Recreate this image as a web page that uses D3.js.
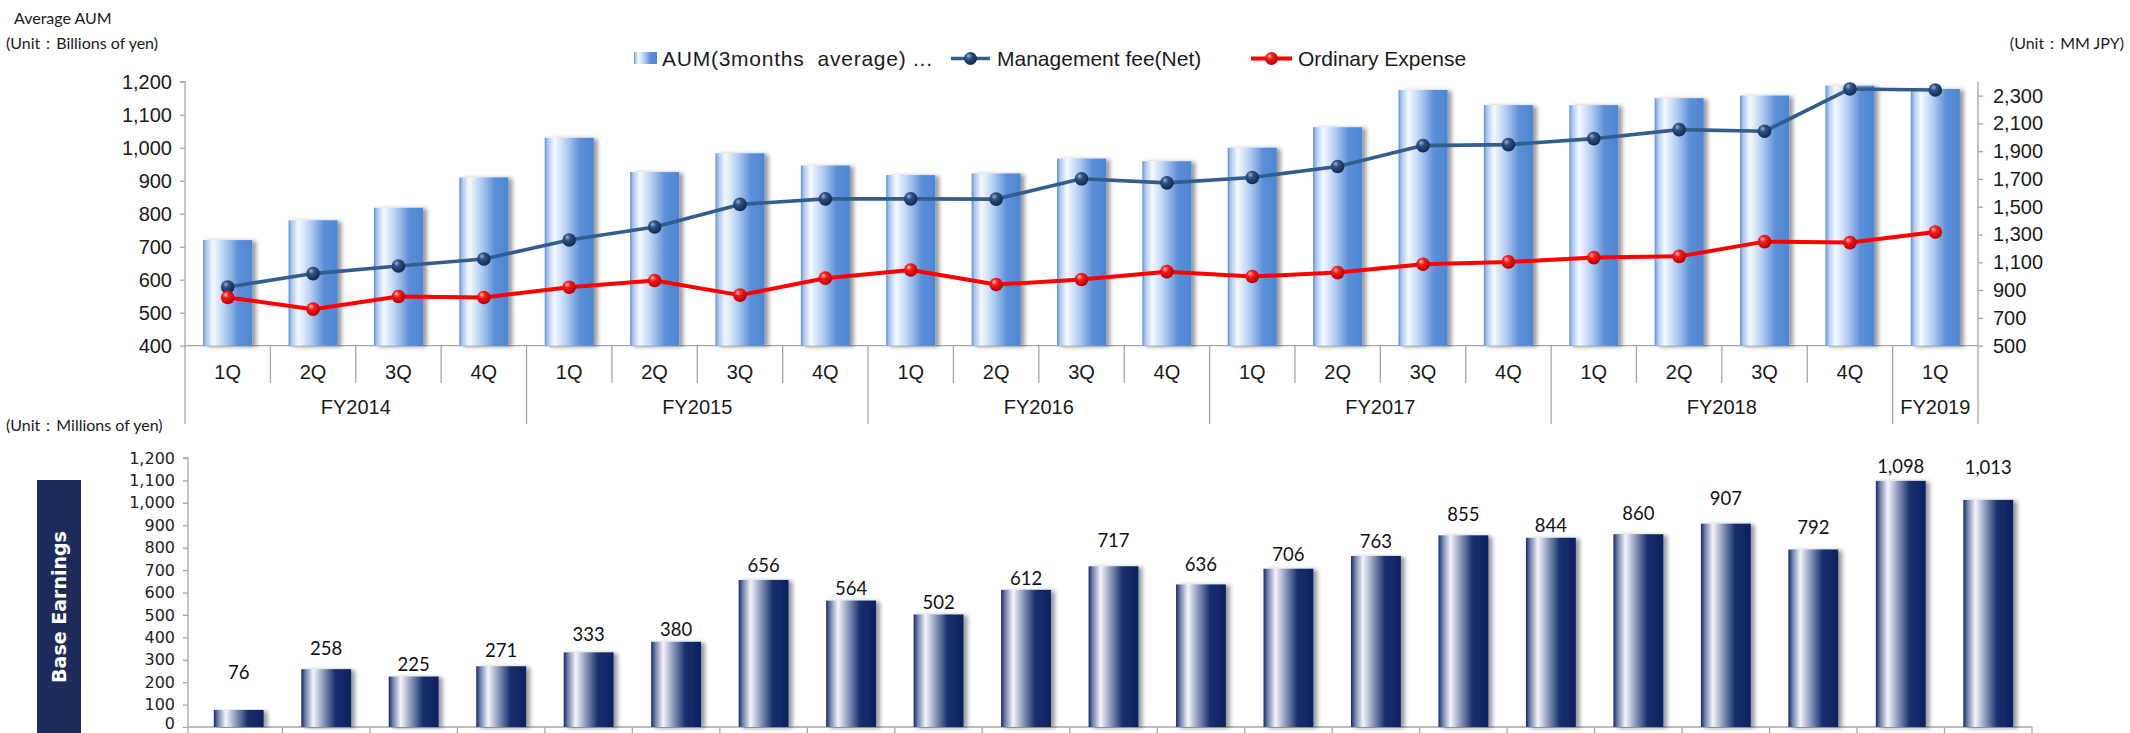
<!DOCTYPE html>
<html>
<head>
<meta charset="utf-8">
<script src="https://cdn.jsdelivr.net/npm/d3@7"></script>
<style>
  html, body { margin: 0; padding: 0; background: #fff; }
  svg { display: block; }
</style>
</head>
<body>
<svg id="chart" width="2130" height="733"></svg>
<script>
// ---------------- DATA ----------------
const fiscalYears = ["FY2014", "FY2015", "FY2016", "FY2017", "FY2018", "FY2019"];
const quartersPerYear = [4, 4, 4, 4, 4, 1];
const quarterLabels = ["1Q", "2Q", "3Q", "4Q"];

// Average AUM (3 months average), billions of yen — left axis
const aumValues = [720, 780, 818, 910, 1030, 926, 983, 946, 917, 922, 967, 959, 1000, 1062, 1175, 1129, 1129, 1150, 1158, 1188, 1178];
// Management fee (Net), MM JPY — right axis
const mgmtFeeValues = [923, 1019, 1074, 1124, 1261, 1354, 1517, 1557, 1557, 1555, 1701, 1672, 1711, 1790, 1940, 1947, 1990, 2055, 2043, 2348, 2340];
// Ordinary Expense, MM JPY — right axis
const ordExpValues = [847, 763, 854, 847, 921, 969, 864, 986, 1045, 940, 976, 1033, 998, 1026, 1086, 1103, 1134, 1143, 1249, 1242, 1318];
// Base Earnings, millions of yen
const baseEarnings = [76, 258, 225, 271, 333, 380, 656, 564, 502, 612, 717, 636, 706, 763, 855, 844, 860, 907, 792, 1098, 1013];

const leftTicks = [400, 500, 600, 700, 800, 900, 1000, 1100, 1200];
const rightTicks = [500, 700, 900, 1100, 1300, 1500, 1700, 1900, 2100, 2300];
const bottomTicks = [0, 100, 200, 300, 400, 500, 600, 700, 800, 900, 1000, 1100, 1200];

const legendLabels = ["AUM(3months  average) ...", "Management fee(Net)", "Ordinary Expense"];

// ---------------- LAYOUT ----------------
// vertical lift of each base-earnings label above its bar (pixels)
const labelLift = [37, 21, 12, 16, 18, 12, 14, 12, 12, 11, 26, 20, 14, 14, 21, 12, 21, 25, 22, 14, 32];

const periods = [];
fiscalYears.forEach((fy, i) => {
  for (let q = 0; q < quartersPerYear[i]; q++) periods.push({ fy, q: quarterLabels[q], key: fy + "-" + quarterLabels[q] });
});
const keys = periods.map(p => p.key);

const svg = d3.select("#chart");
const defs = svg.append("defs");

// gradients
function linGrad(id, stops) {
  const g = defs.append("linearGradient").attr("id", id).attr("x1", "0%").attr("x2", "100%").attr("y1", "0%").attr("y2", "0%");
  stops.forEach(s => g.append("stop").attr("offset", s[0]).attr("stop-color", s[1]));
}
linGrad("aumGrad", [["0%", "#5a8fd8"], ["6%", "#a9c6ee"], ["20%", "#f6f9fe"], ["45%", "#b3cdf1"], ["72%", "#5b8fd9"], ["100%", "#4d86d4"]]);
linGrad("beGrad", [["0%", "#13296a"], ["8%", "#6c7fa8"], ["24%", "#f4f5f9"], ["45%", "#8796b8"], ["68%", "#1a2f6c"], ["100%", "#0c2260"]]);

function radGrad(id, stops) {
  const g = defs.append("radialGradient").attr("id", id).attr("cx", "40%").attr("cy", "35%").attr("r", "65%").attr("fx", "35%").attr("fy", "30%");
  stops.forEach(s => g.append("stop").attr("offset", s[0]).attr("stop-color", s[1]));
}
radGrad("navyBall", [["0%", "#9bb3d4"], ["35%", "#2f5283"], ["100%", "#12284a"]]);
radGrad("redBall", [["0%", "#ffc2c2"], ["35%", "#ff1a1a"], ["100%", "#b00000"]]);

const shadow = defs.append("filter").attr("id", "shadow").attr("x", "-20%").attr("y", "-5%").attr("width", "150%").attr("height", "110%");
shadow.append("feDropShadow").attr("dx", 4).attr("dy", 1).attr("stdDeviation", 2).attr("flood-color", "#000").attr("flood-opacity", 0.4);

const axisColor = "#a6a6a6";
const textColor = "#1a1a1a";
const arial = "'Liberation Sans', Arial, sans-serif";
const calib = "Lato, 'Open Sans', sans-serif";

// ---------------- TOP CHART ----------------
const top0 = 81.7, base0 = 345.7, left0 = 185, right0 = 1978;
const xTop = d3.scaleBand().domain(keys).range([left0, right0]).paddingInner(0.426).paddingOuter(0.213);
const yL = d3.scaleLinear().domain([400, 1200]).range([base0, top0]);
const yR = d3.scaleLinear().domain([500, 2400]).range([base0, top0]);

// left axis
const gL = svg.append("g").attr("transform", `translate(${left0},0)`)
  .call(d3.axisLeft(yL).tickValues(leftTicks).tickSize(5).tickPadding(8).tickFormat(d3.format(",")));
gL.selectAll("path, line").attr("stroke", axisColor).attr("stroke-width", 1.3);
gL.select(".domain").attr("d", `M-5,${top0}H0V${base0}`);
gL.selectAll("text").attr("font-family", arial).attr("font-size", 20).attr("fill", textColor);

// right axis
const gR = svg.append("g").attr("transform", `translate(${right0},0)`)
  .call(d3.axisRight(yR).tickValues(rightTicks).tickSize(5).tickPadding(10).tickFormat(d3.format(",")));
gR.selectAll("path, line").attr("stroke", axisColor).attr("stroke-width", 1.3);
gR.select(".domain").attr("d", `M0,${top0}V${base0}`);
gR.selectAll("text").attr("font-family", arial).attr("font-size", 20).attr("fill", textColor);

// category axis (two levels)
const step = xTop.step();
const halfGap = (step - xTop.bandwidth()) / 2;
const gC = svg.append("g");
gC.append("line").attr("x1", left0).attr("x2", right0).attr("y1", base0).attr("y2", base0).attr("stroke", axisColor).attr("stroke-width", 1.3);
periods.forEach((p, i) => {
  const xs = xTop(p.key) - halfGap;
  const isYearStart = p.q === "1Q";
  gC.append("line").attr("x1", xs).attr("x2", xs).attr("y1", base0).attr("y2", isYearStart ? 424 : 383)
    .attr("stroke", axisColor).attr("stroke-width", 1.3);
  gC.append("text").attr("x", xTop(p.key) + xTop.bandwidth() / 2).attr("y", 372).attr("dy", "0.35em")
    .attr("text-anchor", "middle").attr("font-family", arial).attr("font-size", 20).attr("fill", textColor).text(p.q);
});
gC.append("line").attr("x1", right0).attr("x2", right0).attr("y1", base0).attr("y2", 424).attr("stroke", axisColor).attr("stroke-width", 1.3);
fiscalYears.forEach(fy => {
  const ks = periods.filter(p => p.fy === fy).map(p => p.key);
  const xa = xTop(ks[0]) - halfGap;
  const xb = xTop(ks[ks.length - 1]) + xTop.bandwidth() + halfGap;
  gC.append("text").attr("x", (xa + xb) / 2).attr("y", 407).attr("dy", "0.35em")
    .attr("text-anchor", "middle").attr("font-family", arial).attr("font-size", 20).attr("fill", textColor).text(fy);
});

// AUM bars
svg.append("g").selectAll("rect").data(aumValues).join("rect")
  .attr("x", (d, i) => xTop(keys[i]))
  .attr("width", xTop.bandwidth())
  .attr("y", d => yL(d))
  .attr("height", d => base0 - yL(d))
  .attr("fill", "url(#aumGrad)")
  .attr("filter", "url(#shadow)");

// lines
function drawSeries(values, color, ball, width) {
  const cx = (d, i) => xTop(keys[i]) + xTop.bandwidth() / 2;
  const line = d3.line().x((d, i) => cx(d, i)).y(d => yR(d));
  svg.append("path").datum(values).attr("d", line).attr("fill", "none")
    .attr("stroke", color).attr("stroke-width", width).attr("stroke-linejoin", "round");
  svg.append("g").selectAll("circle").data(values).join("circle")
    .attr("cx", cx).attr("cy", d => yR(d)).attr("r", 6.8).attr("fill", `url(#${ball})`);
}
drawSeries(mgmtFeeValues, "#325d8d", "navyBall", 3.6);
drawSeries(ordExpValues, "#ff0000", "redBall", 4);

// legend
const lg = svg.append("g");
lg.append("rect").attr("x", 634).attr("y", 52).attr("width", 23).attr("height", 12).attr("fill", "url(#aumGrad)");
lg.append("text").attr("x", 662).attr("y", 58.5).attr("dy", "0.35em").attr("font-family", arial).attr("font-size", 21)
  .attr("fill", textColor).style("white-space", "pre").attr("textLength", 270).attr("lengthAdjust", "spacing").text(legendLabels[0]);
lg.append("line").attr("x1", 951).attr("x2", 990).attr("y1", 58.5).attr("y2", 58.5).attr("stroke", "#325d8d").attr("stroke-width", 3.6);
lg.append("circle").attr("cx", 970.5).attr("cy", 58.5).attr("r", 6.5).attr("fill", "url(#navyBall)");
lg.append("text").attr("x", 997).attr("y", 58.5).attr("dy", "0.35em").attr("font-family", arial).attr("font-size", 21)
  .attr("fill", textColor).text(legendLabels[1]);
lg.append("line").attr("x1", 1251).attr("x2", 1292).attr("y1", 58.5).attr("y2", 58.5).attr("stroke", "#ff0000").attr("stroke-width", 4);
lg.append("circle").attr("cx", 1271.5).attr("cy", 58.5).attr("r", 6.5).attr("fill", "url(#redBall)");
lg.append("text").attr("x", 1298).attr("y", 58.5).attr("dy", "0.35em").attr("font-family", arial).attr("font-size", 21)
  .attr("fill", textColor).text(legendLabels[2]);

// unit labels
svg.append("text").attr("x", 14).attr("y", 24).attr("font-family", calib).attr("font-size", 16).attr("fill", textColor).text("Average AUM");
svg.append("text").attr("x", 6).attr("y", 49).attr("font-family", calib).attr("font-size", 16).attr("fill", textColor).text("(Unit：Billions of yen)");
svg.append("text").attr("x", 2124).attr("y", 49).attr("text-anchor", "end").attr("font-family", calib).attr("font-size", 16).attr("fill", textColor).text("(Unit：MM JPY)");
svg.append("text").attr("x", 6).attr("y", 431).attr("font-family", calib).attr("font-size", 16).attr("fill", textColor).text("(Unit：Millions of yen)");

// ---------------- BOTTOM CHART ----------------
const bTop = 458, bBase = 727, bLeft = 195, bRight = 2032, bAxisX = 188;
const xB = d3.scaleBand().domain(keys).range([bLeft, bRight]).paddingInner(0.43).paddingOuter(0.215);
const yB = d3.scaleLinear().domain([0, 1200]).range([bBase, bTop]);

const gB = svg.append("g").attr("transform", `translate(${bAxisX},0)`)
  .call(d3.axisLeft(yB).tickValues(bottomTicks).tickSize(5).tickPadding(8).tickFormat(d3.format(",")));
gB.selectAll("path, line").attr("stroke", axisColor).attr("stroke-width", 1.3);
gB.select(".domain").attr("d", `M-5,${bTop}H0V740`);
gB.selectAll("text").attr("font-family", "'DejaVu Sans', Verdana, sans-serif").attr("font-size", 16).attr("fill", "#222");
// keep the lowest tick label inside the picture
gB.selectAll(".tick").filter(d => d === 0).select("text").attr("y", -3.5);

svg.append("line").attr("x1", bAxisX).attr("x2", bRight).attr("y1", bBase).attr("y2", bBase).attr("stroke", axisColor).attr("stroke-width", 1.3);
const stepB = xB.step();
keys.forEach((k, i) => {
  const xs = xB(k) + xB.bandwidth() + (stepB - xB.bandwidth()) / 2;
  svg.append("line").attr("x1", xs).attr("x2", xs).attr("y1", bBase).attr("y2", 740).attr("stroke", axisColor).attr("stroke-width", 1.3);
});

svg.append("g").selectAll("rect").data(baseEarnings).join("rect")
  .attr("x", (d, i) => xB(keys[i]))
  .attr("width", xB.bandwidth())
  .attr("y", d => yB(d))
  .attr("height", d => bBase - yB(d))
  .attr("fill", "url(#beGrad)")
  .attr("filter", "url(#shadow)");

svg.append("g").selectAll("text").data(baseEarnings).join("text")
  .attr("x", (d, i) => xB(keys[i]) + xB.bandwidth() / 2)
  .attr("y", (d, i) => yB(d) - labelLift[i])
  .attr("dy", "0.35em")
  .attr("text-anchor", "middle")
  .attr("font-family", calib).attr("font-size", 18.5).attr("fill", "#111")
  .text(d => d3.format(",")(d));

// Base Earnings side box
svg.append("rect").attr("x", 37).attr("y", 480).attr("width", 44).attr("height", 260).attr("fill", "#1c2b5a");
svg.append("text").attr("transform", "translate(59,607) rotate(-90)").attr("text-anchor", "middle").attr("dy", "0.35em")
  .attr("font-family", "'DejaVu Sans', sans-serif").attr("font-weight", "bold").attr("font-size", 19).attr("fill", "#fff").text("Base Earnings");
</script>
</body>
</html>
